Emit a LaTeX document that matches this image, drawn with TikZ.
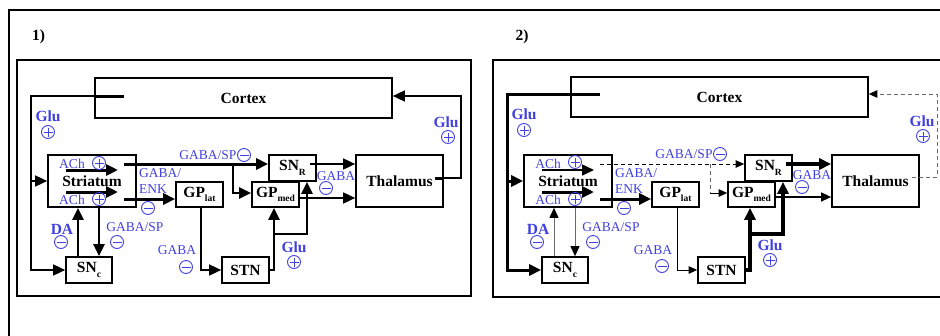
\documentclass[tikz,border=0pt]{standalone}
\usepackage{fontspec}
\setmainfont{Liberation Serif}
\usetikzlibrary{arrows.meta}
\definecolor{lblue}{RGB}{64,64,224}
\definecolor{dgray}{RGB}{105,105,105}
\newcommand\subx[1]{\raisebox{-0.3em}{\fontsize{9.5}{10}\selectfont #1}}
\begin{document}
\begin{tikzpicture}[x=1pt,y=-1pt,
  box/.style={draw, line width=1.7pt, inner sep=0pt, font=\fontsize{15.5}{18}\selectfont\bfseries},
  frame/.style={draw, line width=1.7pt},
  lab/.style={text=lblue, font=\fontsize{13.5}{16}\selectfont, inner sep=0pt},
  blab/.style={text=lblue, font=\fontsize{15.5}{18}\selectfont\bfseries, inner sep=0pt},
  num/.style={font=\fontsize{15.5}{18}\selectfont\bfseries, inner sep=0pt},
  sgn/.style={circle, draw=lblue, line width=0.9pt, minimum size=13pt, inner sep=0pt},
  pluscirc/.style={sgn, path picture={\draw[lblue,line width=0.9pt] ([xshift=-4.5pt]path picture bounding box.center) -- ([xshift=4.5pt]path picture bounding box.center) ([yshift=-4.5pt]path picture bounding box.center) -- ([yshift=4.5pt]path picture bounding box.center);}},
  minuscirc/.style={sgn, path picture={\draw[lblue,line width=0.9pt] ([xshift=-4.5pt]path picture bounding box.center) -- ([xshift=4.5pt]path picture bounding box.center);}},
  wN/.style={line width=1.6pt},
  wM/.style={line width=2.2pt},
  wK/.style={line width=3pt},
  wX/.style={line width=3.6pt},
  wT/.style={line width=1pt},
  dsh/.style={dash pattern=on 4pt off 3pt},
  hb/.style={-{Triangle[length=12pt,width=11pt]}},
  hm/.style={-{Triangle[length=10pt,width=9pt,color=black]}},
  hs/.style={-{Triangle[length=8.5pt,width=7.5pt,color=black]}}
]
\clip (0,0) rectangle (940,335);
% frames
\draw[frame] (9,345) -- (9,10) -- (950,10);
\draw[frame] (17,60) rectangle (471,296);
\draw[frame] (493,60) rectangle (950,297);
\node[num] (n1) at (38.5,37) {1)};
\node[num] (n2) at (522,37) {2)};

% ================= PANEL 1 =================
\node[box, minimum width=297pt, minimum height=40pt] (cortexA) at (243.5,98) {Cortex};
\node[box, minimum width=88pt, minimum height=52pt] (strA) at (92,181) {Striatum};
\node[box, minimum width=47pt, minimum height=25pt] (gplatA) at (199.5,194.5) {GP\subx{lat}};
\node[box, minimum width=47pt, minimum height=26pt] (snrA) at (292.5,168) {SN\subx{R}};
\node[box, minimum width=47pt, minimum height=25pt] (gpmedA) at (275.5,194.5) {GP\subx{med}};
\node[box, minimum width=87pt, minimum height=52pt] (thalA) at (399.5,181) {Thalamus};
\node[box, minimum width=46pt, minimum height=26pt] (sncA) at (89,270) {SN\subx{c}};
\node[box, minimum width=47pt, minimum height=26pt] (stnA) at (245.5,270) {STN};

\coordinate (a1A) at (124,96);
\coordinate (a2A) at (31,96);
\coordinate (a3A) at (31,270);
\coordinate (a4A) at (31,181);
\draw[wK] (a1A) -- (cortexA.west |- a1A);
\draw[wN,hb] (cortexA.west |- a1A) -- (a2A) -- (a3A) -- (sncA.west);
\draw[wN,hb] (a4A) -- (strA.west);

\coordinate (b1A) at (435,178);
\coordinate (b2A) at (461,178);
\coordinate (b3A) at (461,96);
\draw[wK] (b1A) -- (thalA.east |- b1A);
\draw[wN,hb] (thalA.east |- b1A) -- (b2A) -- (b3A) -- (cortexA.east |- b3A);

\coordinate (i1A) at (66,170); \coordinate (i2A) at (118,170);
\coordinate (i3A) at (66,192); \coordinate (i4A) at (118,192);
\draw[wK,hb] (i1A) -- (i2A);
\draw[wK,hb] (i3A) -- (i4A);

\coordinate (s1A) at (124,164);
\coordinate (s2A) at (233,164);
\coordinate (s3A) at (233,193);
\coordinate (s4A) at (124,199);
\draw[wK,hb] (s1A) -- (snrA.west |- s1A);
\draw[wM,hb] (s2A) -- (s3A) -- (gpmedA.west |- s3A);
\draw[wK,hb] (s4A) -- (gplatA.west |- s4A);

\draw[wM,hb] ([xshift=7pt]strA.south) -- ([xshift=7pt]strA.south |- sncA.north);
\draw[wM,hb] ([xshift=-11pt]sncA.north) -- ([xshift=-11pt]sncA.north |- strA.south);

\draw[wN,hb] ([xshift=1.5pt]gplatA.south) |- (stnA.west);

\coordinate (kA) at (274,234);
\draw[wM,hb] (stnA.east) -| ([xshift=-1.5pt]gpmedA.south);
\draw[wM,hb] (kA) -| ([xshift=14.5pt]snrA.south);

\coordinate (t1A) at (310,164);
\coordinate (t2A) at (298,198);
\draw[wN,hb] (t1A) -- (thalA.west |- t1A);
\draw[wN,hb] (t2A) -- (thalA.west |- t2A);

\node[blab] (gl1A) at (48,116) {Glu};
\node[pluscirc] (pl1A) at (48,132) {};
\node[lab] (gs1A) at (208,155) {GABA/SP};
\node[minuscirc] (mi1A) at (244,155) {};
\node[lab, anchor=west] (ge1A) at (139,173) {GABA/};
\node[lab, anchor=west] (ge2A) at (139,189) {ENK};
\node[minuscirc] (mi2A) at (148,208) {};
\node[lab] (ac1A) at (72,164) {ACh};
\node[pluscirc] (pl2A) at (99,163) {};
\node[lab] (ac2A) at (72,200) {ACh};
\node[pluscirc] (pl3A) at (99,199) {};
\node[blab] (daA) at (62,229) {DA};
\node[minuscirc] (mi3A) at (61,242) {};
\node[lab] (gs2A) at (135,227) {GABA/SP};
\node[minuscirc] (mi4A) at (117,242) {};
\node[lab] (ga1A) at (177,250) {GABA};
\node[minuscirc] (mi5A) at (186,267) {};
\node[blab] (gl2A) at (294,247) {Glu};
\node[pluscirc] (pl4A) at (294,262) {};
\node[lab] (ga2A) at (336,176) {GABA};
\node[minuscirc] (mi6A) at (326,188) {};
\node[blab] (gl3A) at (446,122) {Glu};
\node[pluscirc] (pl5A) at (448,137) {};

% ================= PANEL 2 =================
\begin{scope}[xshift=476pt]
\node[box, minimum width=297pt, minimum height=40pt] (cortexB) at (243.5,97) {Cortex};
\node[box, minimum width=88pt, minimum height=52pt] (strB) at (92,181) {Striatum};
\node[box, minimum width=47pt, minimum height=25pt] (gplatB) at (199.5,194.5) {GP\subx{lat}};
\node[box, minimum width=47pt, minimum height=26pt] (snrB) at (292.5,168) {SN\subx{R}};
\node[box, minimum width=47pt, minimum height=25pt] (gpmedB) at (275.5,194.5) {GP\subx{med}};
\node[box, minimum width=87pt, minimum height=52pt] (thalB) at (399.5,181) {Thalamus};
\node[box, minimum width=46pt, minimum height=26pt] (sncB) at (89,270) {SN\subx{c}};
\node[box, minimum width=47pt, minimum height=26pt] (stnB) at (245.5,270) {STN};

\coordinate (a1B) at (124,94);
\coordinate (a2B) at (31,94);
\coordinate (a3B) at (31,270);
\coordinate (a4B) at (31,181);
\draw[wK] (a1B) -- (cortexB.west |- a1B);
\draw[wK,hb] (cortexB.west |- a1B) -- (a2B) -- (a3B) -- (sncB.west);
\draw[wK,hb] (a4B) -- (strB.west);

\coordinate (b1B) at (436,177);
\coordinate (b2B) at (461,177);
\coordinate (b3B) at (461,94);
\draw[wT,dsh,dgray,hs] (b1B) -- (b2B) -- (b3B) -- (cortexB.east |- b3B);

\coordinate (i1B) at (66,170); \coordinate (i2B) at (118,170);
\coordinate (i3B) at (66,192); \coordinate (i4B) at (118,192);
\draw[wN,hb] (i1B) -- (i2B);
\draw[wK,hb] (i3B) -- (i4B);

\coordinate (s1B) at (124,164);
\coordinate (s2B) at (234,164);
\coordinate (s3B) at (234,193);
\coordinate (s4B) at (124,199);
\draw[wT,dsh,hs] (s1B) -- (snrB.west |- s1B);
\draw[wT,dsh,dgray] (s2B) -- (s3B);
\draw[wT,hs] (s3B) -- (gpmedB.west |- s3B);
\draw[wK,hb] (s4B) -- (gplatB.west |- s4B);

\draw[wT,dgray,hm] ([xshift=7pt]strB.south) -- ([xshift=7pt]strB.south |- sncB.north);
\draw[wT,dgray,hm] ([xshift=-11pt]sncB.north) -- ([xshift=-11pt]sncB.north |- strB.south);

\draw[wT,hs] ([xshift=1.5pt]gplatB.south) |- (stnB.west);

\coordinate (kB) at (274,234);
\draw[wX,hb] (stnB.east) -| ([xshift=-1.5pt]gpmedB.south);
\draw[wX,hb] (kB) -| ([xshift=14.5pt]snrB.south);

\coordinate (t1B) at (310,164);
\coordinate (t2B) at (298,197);
\draw[wX,hb] (t1B) -- (thalB.west |- t1B);
\draw[line width=1.3pt,hm] (t2B) -- (thalB.west |- t2B);

\node[blab] (gl1B) at (48,114) {Glu};
\node[pluscirc] (pl1B) at (48,130) {};
\node[lab] (gs1B) at (208,154) {GABA/SP};
\node[minuscirc] (mi1B) at (244,154) {};
\node[lab, anchor=west] (ge1B) at (139,173) {GABA/};
\node[lab, anchor=west] (ge2B) at (139,189) {ENK};
\node[minuscirc] (mi2B) at (148,208) {};
\node[lab] (ac1B) at (72,164) {ACh};
\node[pluscirc] (pl2B) at (99,162) {};
\node[lab] (ac2B) at (72,200) {ACh};
\node[pluscirc] (pl3B) at (99,199) {};
\node[blab] (daB) at (62,229) {DA};
\node[minuscirc] (mi3B) at (61,242) {};
\node[lab] (gs2B) at (135,227) {GABA/SP};
\node[minuscirc] (mi4B) at (117,242) {};
\node[lab] (ga1B) at (177,250) {GABA};
\node[minuscirc] (mi5B) at (186,266) {};
\node[blab] (gl2B) at (294,245) {Glu};
\node[pluscirc] (pl4B) at (294,260) {};
\node[lab] (ga2B) at (336,175) {GABA};
\node[minuscirc] (mi6B) at (326,187) {};
\node[blab] (gl3B) at (446,121) {Glu};
\node[pluscirc] (pl5B) at (447,136) {};
\end{scope}
\end{tikzpicture}
\end{document}
